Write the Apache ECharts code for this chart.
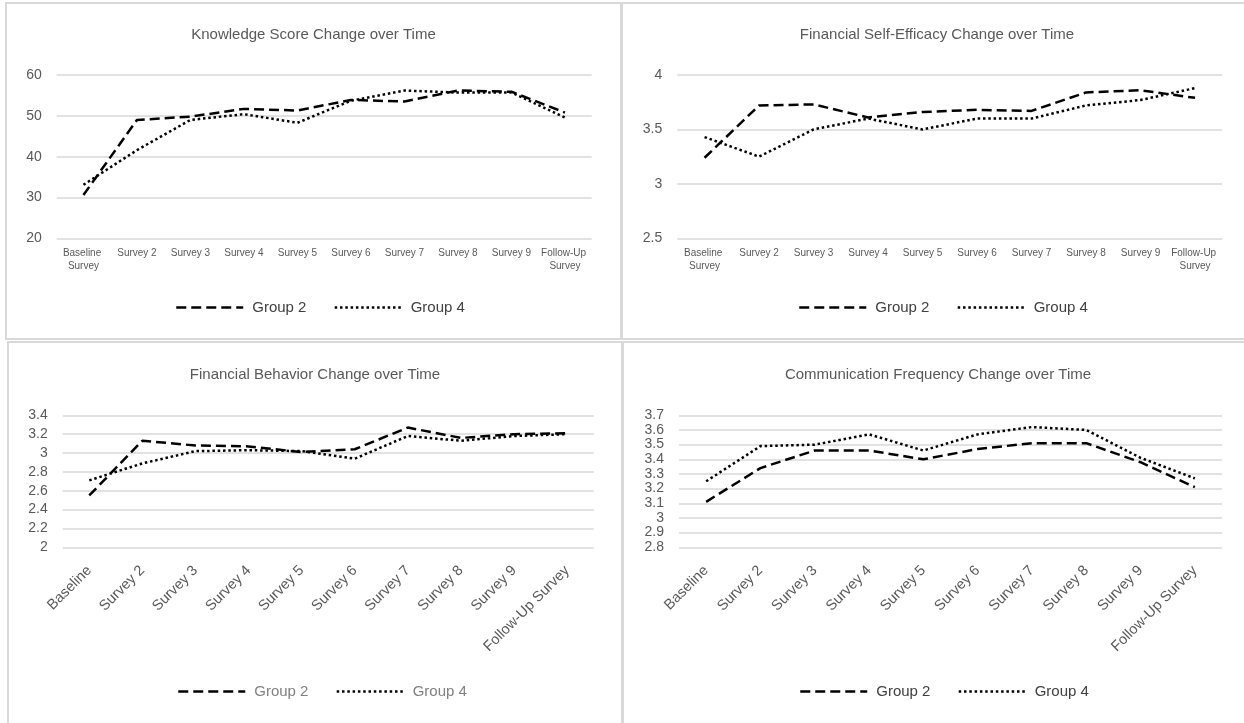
<!DOCTYPE html>
<html>
<head>
<meta charset="utf-8">
<script src="https://cdn.jsdelivr.net/npm/echarts@6/dist/echarts.min.js"></script>
<style>
  html, body { margin: 0; padding: 0; width: 1244px; height: 723px; overflow: hidden; background: #fff; }
  .panel { position: absolute; box-sizing: border-box; border: 2px solid #d9d9d9; background: #fff; }
  .chart { position: absolute; left: 0; top: 0; right: 0; bottom: 0; }
</style>
</head>
<body>
<div class="panel" style="left:5px;top:2px;width:617px;height:338px;"><div id="c1" class="chart"></div></div>
<div class="panel" style="left:621px;top:2px;width:632px;height:338px;"><div id="c2" class="chart"></div></div>
<div class="panel" style="left:7px;top:341px;width:616px;height:392px;"><div id="c3" class="chart"></div></div>
<div class="panel" style="left:622px;top:341px;width:632px;height:392px;"><div id="c4" class="chart"></div></div>
<script>
// Survey waves
const topCategories = ['Baseline Survey', 'Survey 2', 'Survey 3', 'Survey 4', 'Survey 5', 'Survey 6', 'Survey 7', 'Survey 8', 'Survey 9', 'Follow-Up Survey'];
const bottomCategories = ['Baseline', 'Survey 2', 'Survey 3', 'Survey 4', 'Survey 5', 'Survey 6', 'Survey 7', 'Survey 8', 'Survey 9', 'Follow-Up Survey'];

// Mean scores per wave
const knowledgeGroup2 = [30.6, 49.0, 49.8, 51.7, 51.3, 53.9, 53.5, 56.2, 55.9, 50.8];
const knowledgeGroup4 = [33.1, 41.6, 49.0, 50.4, 48.3, 53.7, 56.2, 55.7, 55.7, 49.6];
const efficacyGroup2 = [3.24, 3.72, 3.73, 3.61, 3.66, 3.68, 3.67, 3.84, 3.86, 3.79];
const efficacyGroup4 = [3.43, 3.25, 3.50, 3.60, 3.50, 3.60, 3.60, 3.72, 3.77, 3.88];
const behaviorGroup2 = [2.55, 3.13, 3.08, 3.07, 3.01, 3.04, 3.27, 3.16, 3.20, 3.21];
const behaviorGroup4 = [2.71, 2.89, 3.02, 3.03, 3.02, 2.94, 3.18, 3.13, 3.18, 3.20];
const commGroup2 = [3.11, 3.34, 3.46, 3.46, 3.40, 3.47, 3.51, 3.51, 3.38, 3.21];
const commGroup4 = [3.25, 3.49, 3.50, 3.57, 3.46, 3.57, 3.62, 3.60, 3.41, 3.27];

const seriesNames = ['Group 2', 'Group 4'];

const FONT = "'Liberation Sans', Arial, sans-serif";
const TEXT = '#595959';
const GRID_LINE = '#d9d9d9';

function buildOption(cfg) {
  const rotated = cfg.rotate;
  return {
    animation: false,
    textStyle: { fontFamily: FONT },
    title: {
      text: cfg.title,
      left: 'center',
      top: cfg.titleTop,
      textStyle: { fontFamily: FONT, fontSize: 15, fontWeight: 'normal', color: TEXT }
    },
    legend: {
      data: seriesNames,
      left: cfg.legendLeft,
      top: cfg.legendTop,
      padding: 0,
      itemWidth: 67,
      itemHeight: 12,
      itemGap: 27,
      itemStyle: { opacity: 0 },
      lineStyle: { width: 2.5 },
      textStyle: { fontFamily: FONT, fontSize: 15, color: cfg.legendColor, padding: [0, 0, 0, 4] }
    },
    grid: { left: cfg.grid[0], top: cfg.grid[1], width: cfg.grid[2], height: cfg.grid[3], containLabel: false },
    xAxis: {
      type: 'category',
      data: cfg.categories,
      boundaryGap: true,
      axisLine: { show: false },
      axisTick: { show: false },
      axisLabel: rotated ? {
        rotate: 45, interval: 0, margin: 21, fontFamily: FONT, fontSize: 14.5, color: TEXT
      } : {
        interval: 0, margin: 8, fontFamily: FONT, fontSize: 10, color: TEXT,
        width: 52, overflow: 'break', lineHeight: 13
      }
    },
    yAxis: {
      type: 'value',
      min: cfg.min, max: cfg.max, interval: cfg.interval,
      axisLine: { show: false },
      axisTick: { show: false },
      splitLine: { show: true, lineStyle: { color: GRID_LINE, width: 1.5 } },
      axisLabel: { margin: 15, fontFamily: FONT, fontSize: 14, color: TEXT }
    },
    series: [
      {
        name: seriesNames[0], type: 'line', data: cfg.g2, symbol: 'none',
        lineStyle: { color: '#000', width: 2.5, type: [10, 5] },
        itemStyle: { color: '#000' }
      },
      {
        name: seriesNames[1], type: 'line', data: cfg.g4, symbol: 'none',
        lineStyle: { color: '#000', width: 2.5, type: [2.5, 2.8] },
        itemStyle: { color: '#000' }
      }
    ]
  };
}

const panels = [
  { id: 'c1', title: 'Knowledge Score Change over Time', titleTop: 18, categories: topCategories, rotate: false,
    grid: [49.7, 71, 535, 163.3], min: 20, max: 60, interval: 10, g2: knowledgeGroup2, g4: knowledgeGroup4,
    legendLeft: 168, legendTop: 296, legendColor: '#404040' },
  { id: 'c2', title: 'Financial Self-Efficacy Change over Time', titleTop: 18, categories: topCategories, rotate: false,
    grid: [54.3, 71, 545, 163.3], min: 2.5, max: 4, interval: 0.5, g2: efficacyGroup2, g4: efficacyGroup4,
    legendLeft: 175, legendTop: 296, legendColor: '#404040' },
  { id: 'c3', title: 'Financial Behavior Change over Time', titleTop: 19, categories: bottomCategories, rotate: true,
    grid: [53.7, 72.3, 531, 132], min: 2, max: 3.4, interval: 0.2, g2: behaviorGroup2, g4: behaviorGroup4,
    legendLeft: 168, legendTop: 341, legendColor: '#808080' },
  { id: 'c4', title: 'Communication Frequency Change over Time', titleTop: 19, categories: bottomCategories, rotate: true,
    grid: [55, 72.3, 543, 132], min: 2.8, max: 3.7, interval: 0.1, g2: commGroup2, g4: commGroup4,
    legendLeft: 175, legendTop: 341, legendColor: '#404040' }
];

panels.forEach(function (p) {
  const chart = echarts.init(document.getElementById(p.id), null, { renderer: 'canvas' });
  chart.setOption(buildOption(p));
});
</script>
</body>
</html>
